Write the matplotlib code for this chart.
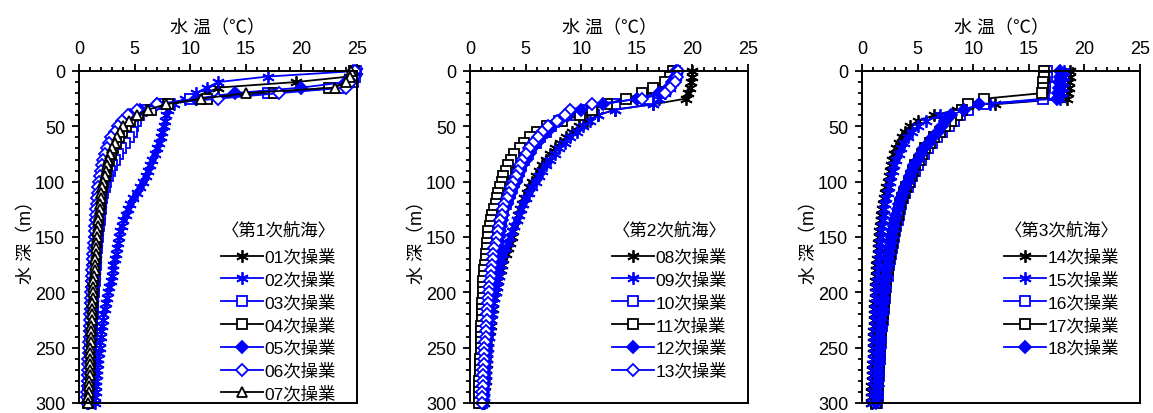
import matplotlib.pyplot as plt
from matplotlib.ticker import MultipleLocator

plt.rcParams['font.family'] = ['Liberation Sans', 'Noto Sans CJK JP']

# CTD casts, water temperature (deg C) every 5 m from the surface to 300 m
depth = list(range(0, 301, 5))

# cruise 1
t01 = [24.8, 24.3, 19.5, 12.5, 11.5, 10.5, 8.0, 6.0, 5.2, 4.7, 4.3, 4.0, 3.7, 3.4, 3.2, 3.0, 2.8, 2.7, 2.5, 2.4, 2.3,
       2.2, 2.1, 2.0, 1.95, 1.9, 1.85, 1.8, 1.75, 1.7, 1.65,
       1.6, 1.55, 1.5, 1.5, 1.45, 1.4, 1.4, 1.35, 1.3, 1.3,
       1.25, 1.25, 1.2, 1.2, 1.15, 1.15, 1.1, 1.1, 1.05, 1.05,
       1.0, 1.0, 1.0, 0.95, 0.95, 0.95, 0.9, 0.9, 0.9, 0.85]
t02 = [25.0, 17.0, 12.5, 11.5, 10.5, 9.5, 8.5, 8.0, 7.8, 7.7, 7.6, 7.5, 7.4, 7.2, 7.0, 6.8, 6.6, 6.4, 6.2, 6.0, 5.8,
       5.5, 5.2, 4.9, 4.6, 4.4, 4.2, 4.0, 3.9, 3.7, 3.6,
       3.5, 3.4, 3.3, 3.2, 3.1, 3.05, 3.0, 2.85, 2.7, 2.6,
       2.5, 2.4, 2.3, 2.2, 2.15, 2.1, 2.0, 1.95, 1.9, 1.85,
       1.8, 1.75, 1.7, 1.65, 1.6, 1.55, 1.5, 1.5, 1.45, 1.4]
t03 = [24.9, 24.8, 24.6, 23.5, 17.0, 10.0, 7.6, 6.0, 5.4, 5.1, 4.9, 4.8, 4.5, 4.1, 3.8, 3.5, 3.2, 3.0, 2.8, 2.6, 2.4,
       2.3, 2.2, 2.1, 2.0, 1.95, 1.9, 1.85, 1.8, 1.75, 1.7,
       1.65, 1.6, 1.55, 1.5, 1.5, 1.45, 1.4, 1.4, 1.35, 1.35,
       1.3, 1.3, 1.25, 1.25, 1.2, 1.2, 1.15, 1.15, 1.1, 1.1,
       1.05, 1.05, 1.0, 1.0, 1.0, 0.95, 0.95, 0.95, 0.9, 0.9]
t04 = [24.7, 24.6, 24.3, 22.5, 17.5, 11.5, 8.0, 6.5, 5.3, 4.6, 4.2, 3.9, 3.6, 3.3, 3.1, 2.9, 2.7, 2.5, 2.4, 2.3, 2.2,
       2.1, 2.0, 1.9, 1.85, 1.8, 1.75, 1.7, 1.65, 1.6, 1.55,
       1.5, 1.45, 1.45, 1.4, 1.35, 1.35, 1.3, 1.3, 1.25, 1.25,
       1.2, 1.2, 1.15, 1.15, 1.1, 1.1, 1.05, 1.05, 1.0, 1.0,
       1.0, 0.95, 0.95, 0.95, 0.9, 0.9, 0.9, 0.85, 0.85, 0.85]
t05 = [24.6, 24.5, 24.0, 20.0, 14.0, 10.5, 7.0, 5.5, 4.6, 4.0, 3.6, 3.3, 3.0, 2.8, 2.6, 2.4, 2.3, 2.2, 2.1, 2.0, 1.9,
       1.85, 1.8, 1.75, 1.7, 1.65, 1.6, 1.55, 1.5, 1.5, 1.45,
       1.4, 1.4, 1.35, 1.3, 1.3, 1.25, 1.25, 1.2, 1.2, 1.15,
       1.15, 1.1, 1.1, 1.05, 1.05, 1.0, 1.0, 1.0, 0.95, 0.95,
       0.95, 0.9, 0.9, 0.9, 0.85, 0.85, 0.85, 0.8, 0.8, 0.8]
t06 = [24.8, 24.7, 24.5, 24.0, 18.0, 12.5, 7.0, 5.2, 4.4, 3.9, 3.5, 3.2, 2.9, 2.7, 2.5, 2.3, 2.2, 2.1, 2.0, 1.9, 1.8,
       1.75, 1.7, 1.65, 1.6, 1.55, 1.5, 1.5, 1.45, 1.4, 1.4,
       1.35, 1.35, 1.3, 1.25, 1.25, 1.2, 1.2, 1.15, 1.15, 1.1,
       1.1, 1.05, 1.05, 1.0, 1.0, 0.95, 0.95, 0.95, 0.9, 0.9,
       0.9, 0.85, 0.85, 0.85, 0.8, 0.8, 0.8, 0.75, 0.75, 0.75]
t07 = [24.5, 24.4, 24.0, 23.0, 15.0, 11.0, 7.8, 6.2, 5.2, 4.5, 4.0, 3.7, 3.4, 3.2, 3.0, 2.8, 2.6, 2.5, 2.4, 2.3, 2.2,
       2.1, 2.0, 1.95, 1.9, 1.85, 1.8, 1.75, 1.7, 1.65, 1.6,
       1.55, 1.5, 1.5, 1.45, 1.4, 1.4, 1.35, 1.3, 1.3, 1.25,
       1.25, 1.2, 1.2, 1.15, 1.15, 1.1, 1.1, 1.05, 1.05, 1.0,
       1.0, 1.0, 0.95, 0.95, 0.95, 0.9, 0.9, 0.9, 0.85, 0.85]

# cruise 2
t08 = [20.0, 20.0, 19.9, 19.8, 19.6, 19.4, 16.5, 13.0, 11.5, 10.5, 9.8, 9.2, 8.6, 8.1, 7.6, 7.2, 6.8, 6.5, 6.2, 5.9, 5.6,
       5.3, 5.1, 4.9, 4.7, 4.5, 4.3, 4.2, 4.0, 3.9, 3.8,
       3.6, 3.4, 3.2, 3.0, 2.9, 2.8, 2.6, 2.5, 2.4, 2.3,
       2.2, 2.1, 2.05, 2.0, 1.9, 1.85, 1.8, 1.7, 1.65, 1.6,
       1.55, 1.5, 1.5, 1.45, 1.4, 1.4, 1.35, 1.3, 1.3, 1.25]
t09 = [18.6, 18.5, 18.3, 18.0, 17.5, 17.0, 16.5, 13.0, 11.5, 10.8, 10.2, 9.6, 9.0, 8.5, 8.0, 7.6, 7.2, 6.8, 6.5, 6.2, 5.9,
       5.6, 5.3, 5.0, 4.8, 4.6, 4.4, 4.2, 4.0, 3.8, 3.6,
       3.4, 3.2, 3.0, 2.9, 2.8, 2.7, 2.6, 2.5, 2.4, 2.3,
       2.2, 2.1, 2.0, 1.95, 1.9, 1.8, 1.75, 1.7, 1.65, 1.6,
       1.55, 1.5, 1.45, 1.4, 1.4, 1.35, 1.3, 1.3, 1.25, 1.2]
t10 = [18.4, 18.3, 18.0, 17.5, 17.0, 16.0, 13.0, 10.5, 9.0, 8.0, 7.3, 6.8, 6.3, 5.9, 5.5, 5.2, 4.9, 4.6, 4.4, 4.2, 4.0,
       3.8, 3.6, 3.4, 3.2, 3.0, 2.9, 2.8, 2.7, 2.6, 2.5,
       2.4, 2.3, 2.2, 2.1, 2.0, 1.95, 1.9, 1.85, 1.8, 1.75,
       1.7, 1.65, 1.6, 1.55, 1.5, 1.5, 1.45, 1.4, 1.4, 1.35,
       1.3, 1.3, 1.25, 1.25, 1.2, 1.2, 1.15, 1.15, 1.1, 1.1]
t11 = [18.3, 18.0, 17.5, 16.5, 15.5, 14.0, 12.3, 11.0, 9.9, 8.3, 6.9, 6.0, 5.4, 4.9, 4.5, 4.0, 3.7, 3.4, 3.2, 3.0, 2.9,
       2.7, 2.5, 2.4, 2.3, 2.2, 2.0, 1.9, 1.8, 1.65, 1.6,
       1.55, 1.5, 1.45, 1.4, 1.35, 1.3, 1.25, 1.2, 1.2, 1.15,
       1.15, 1.1, 1.1, 1.05, 1.05, 1.0, 1.0, 1.0, 0.95, 0.95,
       0.95, 0.9, 0.9, 0.9, 0.9, 0.85, 0.85, 0.85, 0.85, 0.8]
t12 = [18.5, 18.4, 18.2, 17.8, 17.0, 15.0, 12.0, 10.0, 8.8, 8.0, 7.4, 6.9, 6.4, 6.0, 5.6, 5.3, 5.0, 4.7, 4.5, 4.3, 4.1,
       3.9, 3.7, 3.5, 3.3, 3.1, 3.0, 2.9, 2.8, 2.7, 2.6,
       2.5, 2.4, 2.3, 2.2, 2.1, 2.05, 2.0, 1.95, 1.9, 1.85,
       1.8, 1.75, 1.7, 1.65, 1.6, 1.55, 1.5, 1.5, 1.45, 1.4,
       1.4, 1.35, 1.3, 1.3, 1.25, 1.25, 1.2, 1.2, 1.15, 1.15]
t13 = [18.7, 18.6, 18.4, 18.0, 17.5, 15.5, 11.0, 9.0, 8.5, 7.8, 7.0, 6.5, 6.1, 5.7, 5.3, 5.0, 4.7, 4.5, 4.3, 4.1, 3.9,
       3.7, 3.5, 3.3, 3.1, 3.0, 2.85, 2.7, 2.6, 2.5, 2.4,
       2.3, 2.2, 2.1, 2.05, 2.0, 1.9, 1.85, 1.8, 1.75, 1.7,
       1.65, 1.6, 1.55, 1.5, 1.5, 1.45, 1.4, 1.4, 1.35, 1.3,
       1.3, 1.25, 1.25, 1.2, 1.2, 1.15, 1.15, 1.1, 1.1, 1.05]

# cruise 3
t14 = [18.7, 18.7, 18.6, 18.6, 18.5, 18.4, 12.0, 8.5, 6.5, 5.0, 4.3, 3.9, 3.6, 3.3, 3.1, 2.9, 2.7, 2.6, 2.5, 2.4, 2.3,
       2.2, 2.1, 2.0, 1.9, 1.8, 1.75, 1.7, 1.6, 1.55, 1.5,
       1.45, 1.4, 1.4, 1.35, 1.3, 1.3, 1.25, 1.2, 1.2, 1.15,
       1.15, 1.1, 1.1, 1.05, 1.05, 1.05, 1.0, 1.0, 1.0, 0.95,
       0.95, 0.95, 0.9, 0.9, 0.9, 0.9, 0.85, 0.85, 0.85, 0.85]
t15 = [18.2, 18.2, 18.1, 18.1, 18.0, 17.8, 11.5, 9.0, 7.0, 5.8, 5.0, 4.5, 4.1, 3.8, 3.5, 3.3, 3.1, 2.9, 2.8, 2.6, 2.5,
       2.4, 2.3, 2.2, 2.1, 2.0, 1.95, 1.9, 1.8, 1.75, 1.7,
       1.65, 1.6, 1.55, 1.5, 1.45, 1.4, 1.4, 1.35, 1.3, 1.3,
       1.25, 1.25, 1.2, 1.2, 1.15, 1.15, 1.1, 1.1, 1.1, 1.05,
       1.05, 1.0, 1.0, 1.0, 0.95, 0.95, 0.95, 0.95, 0.9, 0.9]
t16 = [16.6, 16.6, 16.5, 16.5, 16.4, 16.3, 11.0, 9.5, 8.8, 8.3, 7.8, 7.2, 6.7, 6.3, 5.9, 5.6, 5.3, 5.0, 4.8, 4.5, 4.3,
       4.1, 3.9, 3.7, 3.5, 3.4, 3.3, 3.2, 3.1, 3.0, 2.9,
       2.8, 2.7, 2.6, 2.5, 2.4, 2.35, 2.3, 2.2, 2.15, 2.1,
       2.05, 2.0, 1.95, 1.9, 1.85, 1.8, 1.75, 1.7, 1.7, 1.65,
       1.6, 1.6, 1.55, 1.5, 1.5, 1.45, 1.45, 1.4, 1.4, 1.35]
t17 = [16.4, 16.4, 16.3, 16.3, 16.2, 11.0, 9.5, 9.0, 8.5, 8.0, 7.5, 7.0, 6.5, 6.1, 5.7, 5.4, 5.1, 4.8, 4.6, 4.4, 4.2,
       4.0, 3.8, 3.6, 3.4, 3.3, 3.2, 3.1, 3.0, 2.9, 2.8,
       2.7, 2.6, 2.5, 2.4, 2.35, 2.3, 2.2, 2.15, 2.1, 2.05,
       2.0, 1.95, 1.9, 1.85, 1.8, 1.75, 1.7, 1.65, 1.65, 1.6,
       1.55, 1.55, 1.5, 1.45, 1.45, 1.4, 1.4, 1.35, 1.35, 1.3]
t18 = [17.8, 17.8, 17.7, 17.7, 17.6, 17.5, 10.5, 9.2, 8.0, 7.5, 7.2, 6.8, 6.4, 6.0, 5.6, 5.3, 5.0, 4.7, 4.5, 4.3, 4.1,
       3.9, 3.7, 3.5, 3.35, 3.2, 3.1, 3.0, 2.9, 2.8, 2.7,
       2.6, 2.5, 2.4, 2.35, 2.3, 2.2, 2.15, 2.1, 2.05, 2.0,
       1.95, 1.9, 1.85, 1.8, 1.75, 1.7, 1.7, 1.65, 1.6, 1.6,
       1.55, 1.5, 1.5, 1.45, 1.45, 1.4, 1.4, 1.35, 1.35, 1.3]

cruises = [
    ('〈第1次航海〉', ['01', '02', '03', '04', '05', '06', '07'], [t01, t02, t03, t04, t05, t06, t07]),
    ('〈第2次航海〉', ['08', '09', '10', '11', '12', '13'], [t08, t09, t10, t11, t12, t13]),
    ('〈第3次航海〉', ['14', '15', '16', '17', '18'], [t14, t15, t16, t17, t18]),
]

# line/marker style of the n-th cast within a cruise
asterisk = (6, 2, 0)
blue = '#0000ff'
styles = [
    dict(color='black', marker=asterisk, ms=9),
    dict(color=blue, marker=asterisk, ms=9),
    dict(color=blue, marker='s', mfc='white', ms=7),
    dict(color='black', marker='s', mfc='white', ms=7),
    dict(color=blue, marker='D', ms=6),
    dict(color=blue, marker='D', mfc='white', ms=6),
    dict(color='black', marker='^', mfc='white', ms=7),
]

W, H = 1153, 414
fig = plt.figure(figsize=(W / 100, H / 100), dpi=100)
lefts = [79, 470, 862]

for left, (title, ops, temps) in zip(lefts, cruises):
    ax = fig.add_axes([left / W, 10 / H, 278 / W, 332 / H])
    for op, t, st in zip(ops, temps, styles):
        assert len(t) == len(depth)
        ax.plot(t, depth, lw=1.3, mew=1.3, clip_on=False, label=op + '次操業', **st)

    ax.set_xlim(0, 25)
    ax.set_ylim(300, 0)
    ax.xaxis.tick_top()
    ax.xaxis.set_label_position('top')
    ax.xaxis.set_major_locator(MultipleLocator(5))
    ax.xaxis.set_minor_locator(MultipleLocator(1))
    ax.yaxis.set_major_locator(MultipleLocator(50))
    ax.yaxis.set_minor_locator(MultipleLocator(10))
    ax.tick_params(which='major', direction='out', length=5, width=1.3, labelsize=13)
    ax.tick_params(which='minor', direction='out', length=3, width=1.3)
    ax.tick_params(axis='x', which='major', pad=5)
    ax.tick_params(axis='y', which='major', pad=5)
    for sp in ax.spines.values():
        sp.set_linewidth(1.4)

    ax.set_xlabel('水 温（℃）', fontsize=13, labelpad=6)
    ax.set_ylabel('水 深（m）', fontsize=13, labelpad=0)

    ax.legend(title=title, loc='upper right', bbox_to_anchor=(0.925, 0.55),
              frameon=False, fontsize=12.5, title_fontsize=12.5, numpoints=1,
              handlelength=2.4, handletextpad=0.1, labelspacing=0.36,
              borderpad=0, borderaxespad=0)
    ax.get_legend()._legend_box.sep = 8

fig.savefig('out.png', dpi=100)
